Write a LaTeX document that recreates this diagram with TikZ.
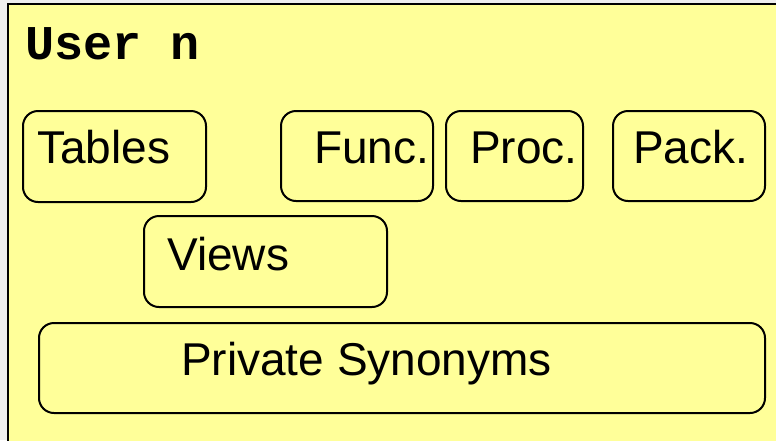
\documentclass[tikz,border=0pt]{standalone}
\usepackage{fontspec}
\setmainfont{Liberation Sans}
\setmonofont{Liberation Mono}
\definecolor{paneyellow}{HTML}{FFFF99}
\definecolor{margingray}{HTML}{EEEEEE}
\begin{document}
\begin{tikzpicture}[x=1pt,y=-1pt,
  objbox/.style={draw=black,line width=2pt,rounded corners=15pt,fill=paneyellow},
  objlabel/.style={inner sep=0pt,anchor=base west,font=\fontsize{46}{52}\selectfont},
  ownerlabel/.style={inner sep=0pt,anchor=base west,font=\ttfamily\bfseries\fontsize{48.5}{52}\selectfont}]
  % canvas and schema pane
  \useasboundingbox (0,0) rectangle (776,440);
  \fill[margingray] (0,0) rectangle (776,440);
  \filldraw[fill=paneyellow,draw=black,line width=2pt] (7.5,4) rectangle (790,450);
  % schema owner
  \node[ownerlabel] (owner) at (25,59) {User n};
  % object boxes
  \draw[objbox] (23,111) rectangle (206,202) coordinate (tablesbox);
  \draw[objbox] (281,111) rectangle (433,201) coordinate (funcbox);
  \draw[objbox] (446,111) rectangle (583,201) coordinate (procbox);
  \draw[objbox] (613,111) rectangle (765,201) coordinate (packbox);
  \draw[objbox] (144,216) rectangle (387,307) coordinate (viewsbox);
  \draw[objbox] (39,323) rectangle (765,413) coordinate (synbox);
  % object labels
  \node[objlabel] (tables) at (37,163) {Tables};
  \node[objlabel] (func) at (314,163) {Func.};
  \node[objlabel] (proc) at (470,163) {Proc.};
  \node[objlabel] (pack) at (633,163) {Pack.};
  \node[objlabel] (views) at (167,270) {Views};
  \node[objlabel] (syn) at (181,375) {Private Synonyms};
\end{tikzpicture}
\end{document}
